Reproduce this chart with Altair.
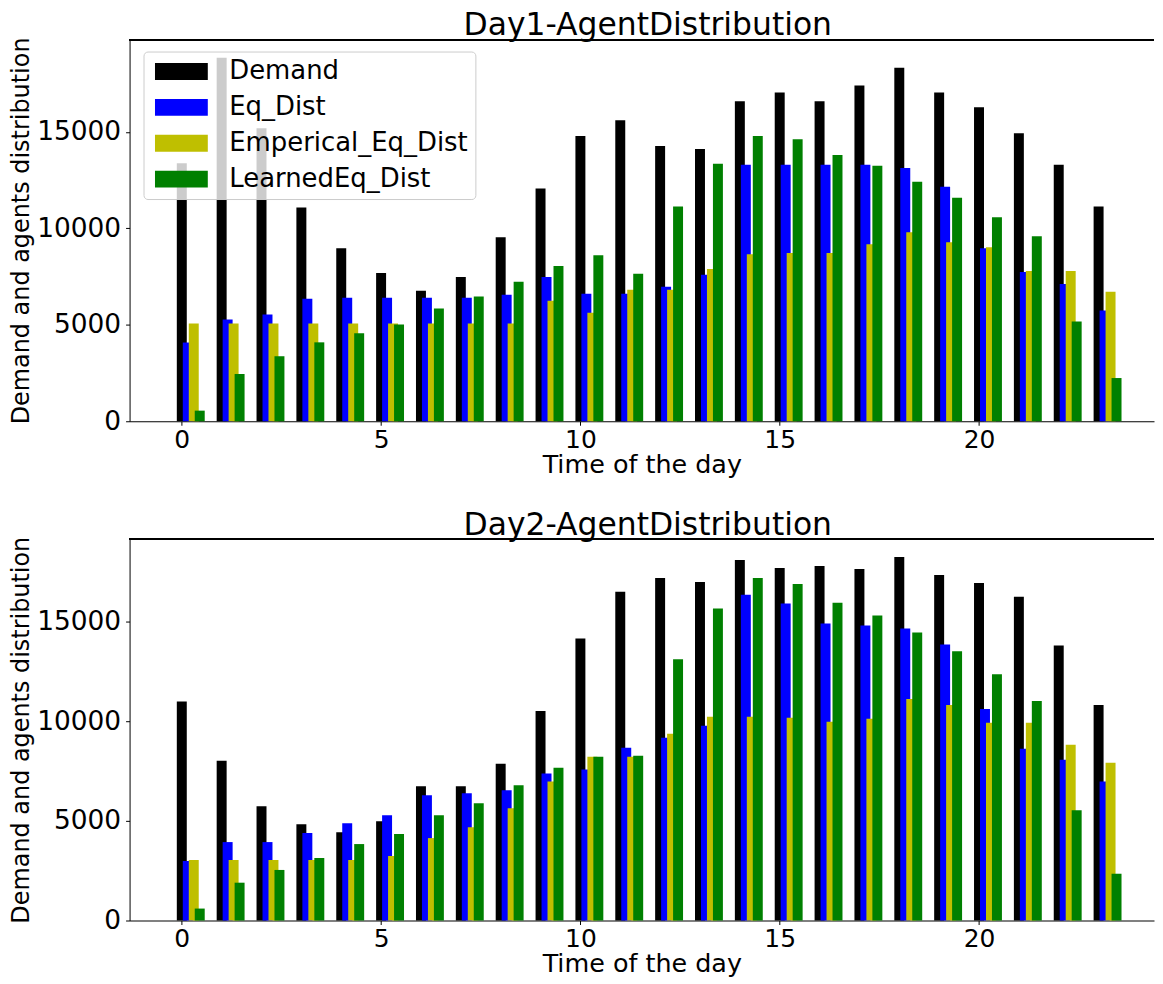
import altair as alt
import pandas as pd

hours = list(range(24))
series_names = ["Demand", "Eq_Dist", "Emperical_Eq_Dist", "LearnedEq_Dist"]
colors = ["#000000", "#0000ff", "#bfbf00", "#008000"]
offsets = [0.0, 0.15, 0.30, 0.45]
bar_width = 0.25

day1_demand = [13370, 18840, 15190, 11080, 8970, 7690, 6760, 7480, 9540, 12060, 14780, 15600,
               14260, 14110, 16580, 17040, 16580, 17400, 18320, 17040, 16270, 14930, 13290, 11130]
day1_eq = [4080, 5270, 5530, 6350, 6400, 6400, 6400, 6400, 6560, 7480, 6610, 6610,
           6970, 7590, 13290, 13290, 13290, 13290, 13130, 12160, 8970, 7740, 7120, 5740]
day1_emp = [5070, 5070, 5070, 5070, 5070, 5070, 5070, 5070, 5070, 6250, 5630, 6820,
            6820, 7890, 8660, 8720, 8720, 9180, 9800, 9280, 9020, 7790, 7790, 6710]
day1_learned = [550, 2450, 3370, 4090, 4560, 5020, 5840, 6460, 7230, 8050, 8610, 7640,
                11130, 13340, 14780, 14620, 13800, 13240, 12410, 11590, 10570, 9590, 5170, 2240]

day2_demand = [11000, 8030, 5740, 4840, 4440, 4990, 6740, 6740, 7880, 10530, 14170, 16510,
               17210, 17010, 18110, 17710, 17810, 17660, 18260, 17360, 16960, 16260, 13820, 10830]
day2_eq = [2990, 3940, 3940, 4390, 4890, 5290, 6290, 6390, 6540, 7380, 7580, 8680,
           9180, 9780, 16360, 15920, 14920, 14820, 14670, 13870, 10630, 8630, 8080, 6980]
day2_emp = [3040, 3040, 3040, 3040, 3040, 3240, 4140, 4690, 5640, 6980, 8230, 8230,
            9380, 10230, 10230, 10180, 9980, 10130, 11130, 10830, 9930, 9930, 8830, 7930]
day2_learned = [600, 1900, 2540, 3140, 3840, 4340, 5290, 5890, 6790, 7680, 8230, 8280,
                13120, 15670, 17210, 16910, 15960, 15320, 14470, 13520, 12370, 11030, 5540, 2350]

x_ticks = [0, 5, 10, 15, 20]
y_ticks = [0, 5000, 10000, 15000]

PLOT_W = 1028
PLOT_H = 383
FONT = "DejaVu Sans"


def build_frame(series_values):
    rows = []
    for k, (name, vals) in enumerate(zip(series_names, series_values)):
        for h, v in zip(hours, vals):
            c = h + offsets[k]
            rows.append({"hour": h, "series": name, "value": v, "k": k,
                         "x0": c - bar_width / 2, "x1": c + bar_width / 2})
    return pd.DataFrame(rows)


def panel(series_values, title):
    df = build_frame(series_values)
    ymax = max(series_values[0]) * 1.05
    bars = alt.Chart(df).mark_bar(opacity=1, strokeWidth=0).encode(
        x=alt.X("x0:Q",
                scale=alt.Scale(domain=[-1.31, -1.31 + PLOT_W / 40], nice=False, zero=False),
                axis=alt.Axis(values=x_ticks, title="Time of the day", format="d",
                              labelFont=FONT, labelFontSize=25, titleFontSize=25.5,
                              titlePadding=0, labelPadding=2, tickSize=4)),
        x2="x1:Q",
        y=alt.Y("value:Q", stack=None,
                scale=alt.Scale(domain=[0, ymax], nice=False),
                axis=alt.Axis(values=y_ticks, format="d",
                              title="Demand and agents distribution",
                              labelFont=FONT, labelFontSize=26.5, titleFontSize=24,
                              titlePadding=3, labelPadding=5, tickSize=4)),
        y2=alt.datum(0),
        color=alt.Color("series:N",
                        scale=alt.Scale(domain=series_names, range=colors),
                        legend=alt.Legend(
                            title=None, orient="none", legendX=14, legendY=12,
                            symbolType="M-1,-1L5.235,-1L5.235,1L-1,1Z",
                            symbolSize=289, symbolStrokeWidth=0, symbolOpacity=1,
                            labelFontSize=26, labelFont=FONT, labelColor="black",
                            labelLimit=0, labelOffset=53, rowPadding=10, padding=7,
                            fillColor="rgba(255,255,255,0.8)", strokeColor="#cccccc",
                            cornerRadius=4, zindex=1)),
        order=alt.Order("k:Q"),
    )
    top_spine = alt.Chart(df).mark_rule(color="black", strokeWidth=1).encode(
        x=alt.value(0), x2=alt.value(PLOT_W), y=alt.value(0)
    )
    return alt.layer(bars, top_spine).properties(
        width=PLOT_W, height=PLOT_H,
        title=alt.TitleParams(title, fontSize=31.5, font=FONT, fontWeight="normal",
                              color="black", offset=-5, dx=6),
    )


p1 = panel([day1_demand, day1_eq, day1_emp, day1_learned], "Day1-AgentDistribution")
p2 = panel([day2_demand, day2_eq, day2_emp, day2_learned], "Day2-AgentDistribution")

chart = alt.vconcat(p1, p2, spacing=31).properties(
    padding={"left": 1, "top": 0, "right": 0, "bottom": 0}
).configure_view(stroke=None).configure_axis(
    labelFont=FONT, titleFont=FONT, labelFontSize=25, titleFontSize=25,
    titleFontWeight="normal", labelColor="black", titleColor="black",
    tickColor="black", domainColor="black", tickSize=4,
    grid=False, domainWidth=1, tickWidth=1
)

chart.save("out.html", embed_options={"renderer": "svg", "actions": False})
